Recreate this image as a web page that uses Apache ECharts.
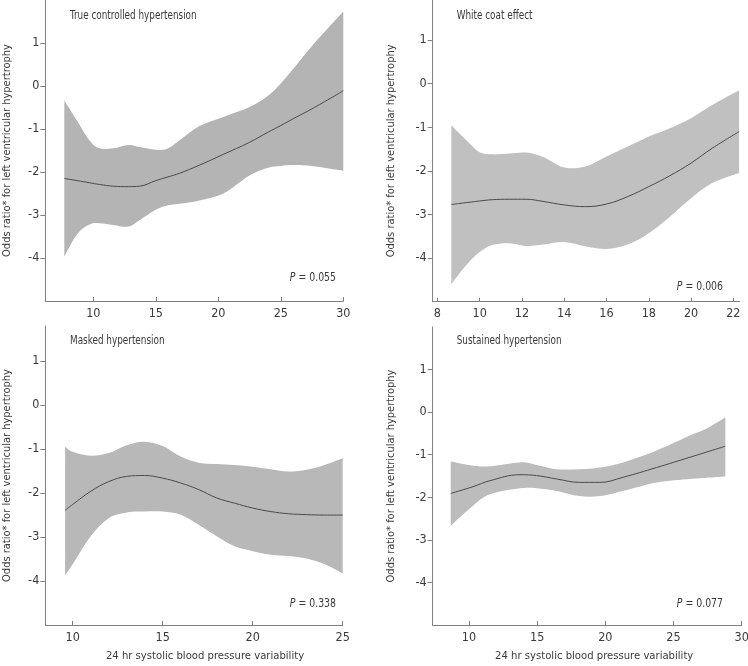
<!DOCTYPE html>
<html>
<head>
<meta charset="utf-8">
<script src="https://cdn.jsdelivr.net/npm/echarts@6/dist/echarts.min.js"></script>
<style>html,body{margin:0;padding:0;background:#fff}#c{width:748px;height:666px}</style>
</head>
<body>
<div id="c"></div>
<script>
// ---------- DATA ----------
const panelTitles = ['True controlled hypertension', 'White coat effect', 'Masked hypertension', 'Sustained hypertension'];
const pValues = ['0.055', '0.006', '0.338', '0.077'];
const yAxisTitle = 'Odds ratio* for left ventricular hypertrophy';
const xAxisTitle = '24 hr systolic blood pressure variability';
const yTicks = [-4, -3, -2, -1, 0, 1];

// True controlled hypertension
const xTC    = [7.68, 8.7, 9.7, 10.5, 11.6, 12.8, 13.7, 15.0, 15.9, 16.9, 18.5, 20.4, 22.5, 24.0, 25.0, 26.0, 27.5, 30.0];
const upTC   = [-0.34, -0.81, -1.27, -1.45, -1.45, -1.37, -1.42, -1.48, -1.46, -1.26, -0.93, -0.72, -0.49, -0.22, 0.06, 0.40, 0.93, 1.73];
const meanTC = [-2.15, -2.20, -2.25, -2.29, -2.33, -2.34, -2.33, -2.20, -2.12, -2.03, -1.84, -1.59, -1.31, -1.07, -0.92, -0.76, -0.53, -0.11];
const loTC   = [-3.97, -3.45, -3.22, -3.19, -3.23, -3.27, -3.12, -2.88, -2.78, -2.74, -2.66, -2.50, -2.08, -1.90, -1.86, -1.84, -1.86, -1.97];
const xTicksTC = [10, 15, 20, 25, 30];

// White coat effect
const xWC    = [8.66, 9.0, 9.5, 10, 10.6, 11.4, 12.2, 13, 14, 15, 16, 17, 18, 19, 20, 21, 22.27];
const upWC   = [-0.95, -1.12, -1.36, -1.57, -1.62, -1.60, -1.58, -1.68, -1.92, -1.90, -1.67, -1.44, -1.21, -1.02, -0.79, -0.49, -0.15];
const meanWC = [-2.77, -2.75, -2.72, -2.69, -2.66, -2.65, -2.65, -2.70, -2.78, -2.82, -2.76, -2.59, -2.36, -2.11, -1.82, -1.48, -1.10];
const loWC   = [-4.60, -4.38, -4.09, -3.86, -3.70, -3.66, -3.72, -3.69, -3.63, -3.73, -3.79, -3.69, -3.43, -3.05, -2.63, -2.28, -2.05];
const xTicksWC = [8, 10, 12, 14, 16, 18, 20, 22];

// Masked hypertension
const xMH    = [9.58, 10, 11, 12, 13, 14, 15, 16, 17, 18, 19, 20, 21, 22, 23, 24, 25];
const upMH   = [-0.94, -1.06, -1.15, -1.09, -0.91, -0.83, -0.93, -1.17, -1.31, -1.34, -1.36, -1.40, -1.46, -1.51, -1.47, -1.36, -1.21];
const meanMH = [-2.39, -2.26, -1.96, -1.74, -1.62, -1.60, -1.66, -1.77, -1.92, -2.11, -2.23, -2.34, -2.42, -2.47, -2.49, -2.50, -2.50];
const loMH   = [-3.87, -3.62, -2.98, -2.57, -2.44, -2.42, -2.42, -2.49, -2.72, -2.98, -3.21, -3.32, -3.40, -3.43, -3.49, -3.62, -3.83];
const xTicksMH = [10, 15, 20, 25];

// Sustained hypertension
const xSH    = [8.66, 10.3, 11.54, 13.74, 14.96, 16.43, 18.1, 19.6, 21.3, 23.76, 26.2, 27.4, 28.8];
const upSH   = [-1.16, -1.26, -1.27, -1.18, -1.24, -1.34, -1.34, -1.30, -1.18, -0.90, -0.55, -0.39, -0.12];
const meanSH = [-1.91, -1.75, -1.61, -1.47, -1.49, -1.57, -1.65, -1.65, -1.53, -1.30, -1.06, -0.94, -0.80];
const loSH   = [-2.67, -2.20, -1.93, -1.79, -1.79, -1.85, -1.97, -1.97, -1.85, -1.65, -1.57, -1.54, -1.51];
const xTicksSH = [10, 15, 20, 25, 30];

// ---------- LAYOUT / STYLE ----------
const FONT = "'Liberation Sans Narrow', 'Arial Narrow', 'DejaVu Sans Condensed', sans-serif";
const TXT = '#3a3a3a';
const AX = '#808080';

const panels = [
  { x: xTC, up: upTC, mean: meanTC, lo: loTC, ticks: xTicksTC,
    grid: { left: 45.3, top: 0, width: 298, height: 301 }, xMin: 6.16, xMax: 30, yMax: 2,
    band: '#b4b4b4', nameGap: 33, showXName: false,
    title: [70, 16], p: [336, 278] },
  { x: xWC, up: upWC, mean: meanWC, lo: loWC, ticks: xTicksWC,
    grid: { left: 432.7, top: 0, width: 307, height: 301.7 }, xMin: 7.78, xMax: 22.3, yMax: 1.92,
    band: '#c0c0c0', nameGap: 36, showXName: false,
    title: [456.7, 16], p: [723, 287] },
  { x: xMH, up: upMH, mean: meanMH, lo: loMH, ticks: xTicksMH,
    grid: { left: 45.3, top: 326, width: 297.4, height: 299 }, xMin: 8.48, xMax: 25, yMax: 1.8,
    band: '#b8b8b8', nameGap: 33, showXName: true, namePad: 22,
    title: [70, 341], p: [336, 604] },
  { x: xSH, up: upSH, mean: meanSH, lo: loSH, ticks: xTicksSH,
    grid: { left: 432.7, top: 327, width: 309, height: 298 }, xMin: 7.34, xMax: 30, yMax: 2,
    band: '#bcbcbc', nameGap: 36, showXName: true, namePad: 14,
    title: [456.7, 341], p: [723, 604] }
];

// smooth path segment through pixel points (Catmull-Rom -> cubic Bezier)
function smoothSeg(pts, s) {
  let d = '';
  const n = pts.length;
  for (let k = 0; k < n - 1; k++) {
    const p0 = pts[Math.max(k - 1, 0)], p1 = pts[k], p2 = pts[k + 1], p3 = pts[Math.min(k + 2, n - 1)];
    const c1 = [p1[0] + (p2[0] - p0[0]) * s, p1[1] + (p2[1] - p0[1]) * s];
    const c2 = [p2[0] - (p3[0] - p1[0]) * s, p2[1] - (p3[1] - p1[1]) * s];
    d += ' C' + c1[0].toFixed(2) + ' ' + c1[1].toFixed(2) + ' ' + c2[0].toFixed(2) + ' ' + c2[1].toFixed(2) + ' ' + p2[0].toFixed(2) + ' ' + p2[1].toFixed(2);
  }
  return d;
}

const grids = [], xAxes = [], yAxes = [], series = [], graphics = [];
panels.forEach((P, i) => {
  grids.push(Object.assign({ outerBoundsMode: 'none', containLabel: false }, P.grid));
  xAxes.push({
    type: 'value', gridIndex: i, min: P.xMin, max: P.xMax, z: 10,
    splitLine: { show: false },
    axisLine: { onZero: false, lineStyle: { color: AX, width: 1 } },
    axisTick: { inside: true, length: 4, lineStyle: { color: AX }, customValues: P.ticks },
    axisLabel: { customValues: P.ticks, color: TXT, fontSize: 12.5, fontFamily: FONT, margin: 6 },
    name: P.showXName ? xAxisTitle : '',
    nameLocation: 'middle', nameGap: 26,
    nameTextStyle: { color: TXT, fontSize: 11.2, fontFamily: FONT, padding: [0, 0, 0, P.namePad || 0] }
  });
  yAxes.push({
    type: 'value', gridIndex: i, min: -5, max: P.yMax, z: 10,
    splitLine: { show: false },
    axisLine: { onZero: false, lineStyle: { color: AX, width: 1 } },
    axisTick: { inside: false, length: 5, lineStyle: { color: AX }, customValues: yTicks },
    axisLabel: { customValues: yTicks, color: TXT, fontSize: 12.5, fontFamily: FONT, margin: 6 },
    name: yAxisTitle, nameLocation: 'middle', nameGap: P.nameGap, nameRotate: 90,
    nameTextStyle: { color: TXT, fontSize: 11, fontFamily: FONT }
  });
  // confidence band: polygon from upper (forward) and lower (reverse), positioned via api.coord
  series.push({
    type: 'custom', xAxisIndex: i, yAxisIndex: i, silent: true, z: 1, clip: true,
    data: [[P.x[0], P.lo[0]]],
    renderItem: function (params, api) {
      const up = P.x.map((v, k) => api.coord([v, P.up[k]]));
      const lo = P.x.map((v, k) => api.coord([v, P.lo[k]])).reverse();
      let d = 'M' + up[0][0].toFixed(2) + ' ' + up[0][1].toFixed(2) + smoothSeg(up, 0.17);
      d += ' L' + lo[0][0].toFixed(2) + ' ' + lo[0][1].toFixed(2) + smoothSeg(lo, 0.17) + ' Z';
      return { type: 'path', shape: { pathData: d }, style: { fill: P.band, stroke: null } };
    }
  });
  // fitted curve
  series.push({
    type: 'line', xAxisIndex: i, yAxisIndex: i,
    smooth: 0.4, symbol: 'none', silent: true, z: 3,
    lineStyle: { width: 1, color: '#4a4a4a' },
    data: P.x.map((v, k) => [v, P.mean[k]])
  });
  graphics.push({
    type: 'text', x: P.title[0], y: P.title[1], z: 100, scaleX: 0.82,
    style: { text: panelTitles[i], fill: TXT, font: '12px ' + FONT, verticalAlign: 'middle' }
  });
  graphics.push({
    type: 'text', x: P.p[0], y: P.p[1], z: 100, scaleX: 0.8,
    style: {
      text: '{i|P} = ' + pValues[i], fill: TXT, font: '13px ' + FONT,
      align: 'right', verticalAlign: 'middle',
      rich: { i: { fontStyle: 'italic', fontSize: 13, fontFamily: FONT, fill: TXT } }
    }
  });
});

const chart = echarts.init(document.getElementById('c'), null, { renderer: 'canvas' });
chart.setOption({
  animation: false,
  backgroundColor: '#ffffff',
  grid: grids, xAxis: xAxes, yAxis: yAxes, series: series,
  graphic: graphics
});
</script>
</body>
</html>
